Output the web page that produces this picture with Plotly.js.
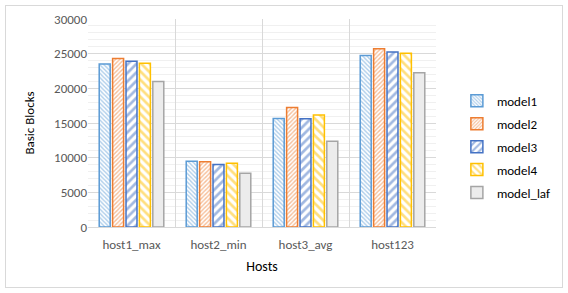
<!DOCTYPE html>
<html><head><meta charset="utf-8">
<script src="https://cdn.plot.ly/plotly-3.0.1.min.js"></script>
<style>html,body{margin:0;padding:0;background:#fff}#wrap{position:relative;width:568px;height:293px}
#frame{position:absolute;left:5px;top:5px;width:556px;height:281px;border:1.5px solid #d9d9d9;pointer-events:none}</style>
</head><body><div id="wrap"><div id="chart" style="width:568px;height:293px"></div><div id="frame"></div></div>
<script>
const hosts = ["host1_max","host2_min","host3_avg","host123"];
const model1 = [23500, 9500, 15650, 24750];
const model2 = [24300, 9400, 17250, 25700];
const model3 = [23900, 9000, 15600, 25250];
const model4 = [23600, 9200, 16150, 25050];
const model_laf = [21000, 7750, 12350, 22250];
const names = ["model1","model2","model3","model4","model_laf"];
const series = [model1, model2, model3, model4, model_laf];
const colors = ["#5B9BD5","#ED7D31","#4472C4","#FFC000","#A5A5A5"];
const patterns = [
  {shape:"\\", size:3, solidity:0.45},
  {shape:"/", size:3, solidity:0.45},
  {shape:"/", size:6, solidity:0.45},
  {shape:"\\", size:6, solidity:0.45},
  {shape:".", size:2, solidity:0.5}
];
const traces = series.map((v,i)=>({
  type:"bar", name:names[i], x:hosts, y:v, legendgroup:"g"+i,
  marker:{color:"#ffffff", line:{color:colors[i], width:1.5},
    pattern:{shape:patterns[i].shape, size:patterns[i].size, solidity:patterns[i].solidity, fgcolor:colors[i], bgcolor:"#ffffff", fillmode:"overlay"}}
}));
const layout = {
  width:568, height:293, paper_bgcolor:"#fff", plot_bgcolor:"#fff",
  margin:{l:88, r:102, t:19, b:66},
  barmode:"group", bargap:0.23, bargroupgap:0.18,
  font:{family:"Carlito, Calibri, Lato, sans-serif", color:"#595959", size:13},
  xaxis:{type:"category", tickson:"boundaries", showgrid:true, gridcolor:"#d9d9d9", gridwidth:1,
    ticks:"", ticklabelstandoff:5, showline:true, linecolor:"#d9d9d9", tickfont:{size:13, color:"#595959"},
    title:{text:"Hosts", font:{size:14, color:"#000"}, standoff:10}, automargin:false},
  xaxis2:{overlaying:"x", range:[-0.5,3.5], dtick:1, tick0:0, showgrid:true, gridcolor:"#f2f2f2",
    showticklabels:false, ticks:"", zeroline:false},
  yaxis:{range:[0,30000], dtick:5000, tickformat:"d", showgrid:true, gridcolor:"#d9d9d9", zeroline:false,
    minor:{dtick:1000, showgrid:true, gridcolor:"#f0f0f0"},
    tickfont:{size:13, color:"#595959"}, ticks:"", ticklen:0,
    title:{text:"Basic Blocks", font:{size:13, color:"#000"}, standoff:16}, automargin:false},
  legend:{x:1.06, xanchor:"left", y:0.385, yanchor:"middle", font:{size:13, color:"#000"},
    tracegroupgap:3, traceorder:"grouped", itemwidth:30},
  showlegend:true
};
Plotly.newPlot("chart", traces, layout, {displayModeBar:false, staticPlot:true});
</script></body></html>
